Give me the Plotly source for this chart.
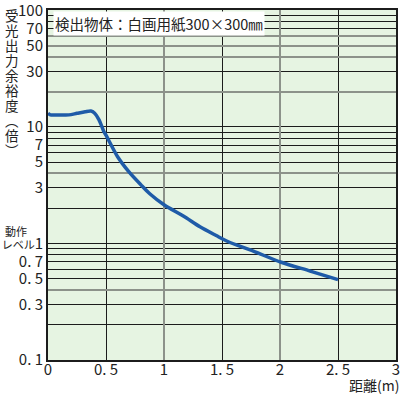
import plotly.graph_objects as go

# ---- data ----
distance_m = [0, 0.02, 0.1, 0.18, 0.25, 0.32, 0.37, 0.40, 0.44, 0.48, 0.5, 0.6,
              0.7, 0.8, 0.88, 1.0, 1.17, 1.31, 1.45, 1.55, 1.77, 2.01, 2.26, 2.5]
margin_x = [13.1, 12.7, 12.7, 12.7, 13.1, 13.5, 13.7, 13.2, 11.5, 9.2, 8.5, 5.56,
            4.1, 3.2, 2.66, 2.15, 1.71, 1.39, 1.17, 1.04, 0.86, 0.69, 0.58, 0.49]

x_tickvals = [0, 0.5, 1, 1.5, 2, 2.5, 3]
x_ticktext = ["0", "0. 5", "1", "1. 5", "2", "2. 5", "3"]
x_grid_dark = [0.5, 1.5, 2.5]
x_grid_gray = [1, 2]

y_tickvals = [0.1, 0.3, 0.5, 0.7, 1, 3, 5, 7, 10, 30, 50, 70, 100]
y_ticktext = ["0. 1", "0. 3", "0. 5", "0. 7",
              "<span style='font-size:11px'>レベル</span>1",
              "3", "5", "7", "10", "30", "50", "70", "100"]
y_grid_dark = [0.2, 0.3, 0.5, 0.6, 0.7, 0.8, 0.9, 1, 2, 3, 5, 6, 7, 8, 9, 10,
               30, 70, 80, 90, 100]
y_grid_gray = [0.4, 4, 20, 40, 50, 60]

title_chars = ["受", "光", "出", "力", "余", "裕", "度", "︵", "倍", "︶"]

FONT = "Noto Sans CJK JP"
W, H = 410, 395
ML, MR, MT, MB = 48, 14, 10, 35
PW, PH = W - ML - MR, H - MT - MB
XR = [0, 3]
YR = [-1, 2.004]

DARK = "#1c1c1c"
GRAY = "#8c928a"


def px_to_paper_x(px):
    return (px - ML) / PW


def px_to_paper_y(py):
    return (H - MB - py) / PH


fig = go.Figure()
fig.add_trace(go.Scatter(x=distance_m, y=margin_x, mode="lines",
                         line=dict(color="#1f5ba8", width=3.5, shape="spline",
                                   smoothing=0.8),
                         hoverinfo="skip", showlegend=False))
fig.add_trace(go.Scatter(x=[], y=[], xaxis="x2", yaxis="y2", showlegend=False))
fig.add_trace(go.Scatter(x=[], y=[], xaxis="x3", yaxis="y3", showlegend=False))

tickfont = dict(family=FONT, size=15, color="#222")
hidden = dict(showticklabels=False, ticks="", zeroline=False, showline=False,
              automargin=False)

fig.update_layout(
    width=W, height=H,
    margin=dict(l=ML, r=MR, t=MT, b=MB, autoexpand=False),
    paper_bgcolor="white",
    plot_bgcolor="#e6f4e2",
    xaxis=dict(range=XR, tickvals=x_tickvals, ticktext=x_ticktext, showgrid=False,
               zeroline=False, showline=True, mirror=True, linecolor=DARK, linewidth=2,
               ticks="", tickfont=tickfont, automargin=False,
               ticklabelstandoff=-5, ticklabeloverflow="allow"),
    yaxis=dict(type="log", range=YR, tickvals=y_tickvals, ticktext=y_ticktext,
               showgrid=False, zeroline=False, showline=True, mirror=True,
               linecolor=DARK, linewidth=2, ticks="", tickfont=tickfont,
               automargin=False, ticklabeloverflow="allow"),
    xaxis2=dict(overlaying="x", range=XR, tickvals=x_grid_dark, showgrid=True,
                gridcolor=DARK, gridwidth=1, **hidden),
    yaxis2=dict(overlaying="y", type="log", range=YR, tickvals=y_grid_dark,
                showgrid=True, gridcolor=DARK, gridwidth=1, **hidden),
    xaxis3=dict(overlaying="x", range=XR, tickvals=x_grid_gray, showgrid=True,
                gridcolor=GRAY, gridwidth=2, **hidden),
    yaxis3=dict(overlaying="y", type="log", range=YR, tickvals=y_grid_gray,
                showgrid=True, gridcolor=GRAY, gridwidth=2, **hidden),
)

title_text = "<br>".join(f"<span style='font-size:13.5px'>{c}</span>" for c in title_chars)

annotations = [
    dict(text=title_text, x=px_to_paper_x(12), y=px_to_paper_y(82),
         xref="paper", yref="paper", xanchor="center", yanchor="middle",
         showarrow=False, font=dict(family=FONT, size=11.5, color="#222")),
    dict(text="動作", x=px_to_paper_x(3), y=px_to_paper_y(231),
         xref="paper", yref="paper", xanchor="left", yanchor="middle",
         showarrow=False, font=dict(family=FONT, size=11, color="#222")),
    dict(text="距離(m)", x=px_to_paper_x(401), y=px_to_paper_y(385),
         xref="paper", yref="paper", xanchor="right", yanchor="middle",
         showarrow=False, font=dict(family=FONT, size=14, color="#222")),
    dict(text="検出物体：白画用紙300×300㎜", x=px_to_paper_x(53),
         y=px_to_paper_y(11), xref="paper", yref="paper",
         xanchor="left", yanchor="top", showarrow=False,
         bgcolor="white", borderpad=1,
         font=dict(family=FONT, size=14.5, color="#222")),
]
fig.update_layout(annotations=annotations)

fig.write_html("out.html",
               config={"displayModeBar": False},
               post_script="document.body.style.margin='0';"
                           "document.body.style.overflow='hidden';")
